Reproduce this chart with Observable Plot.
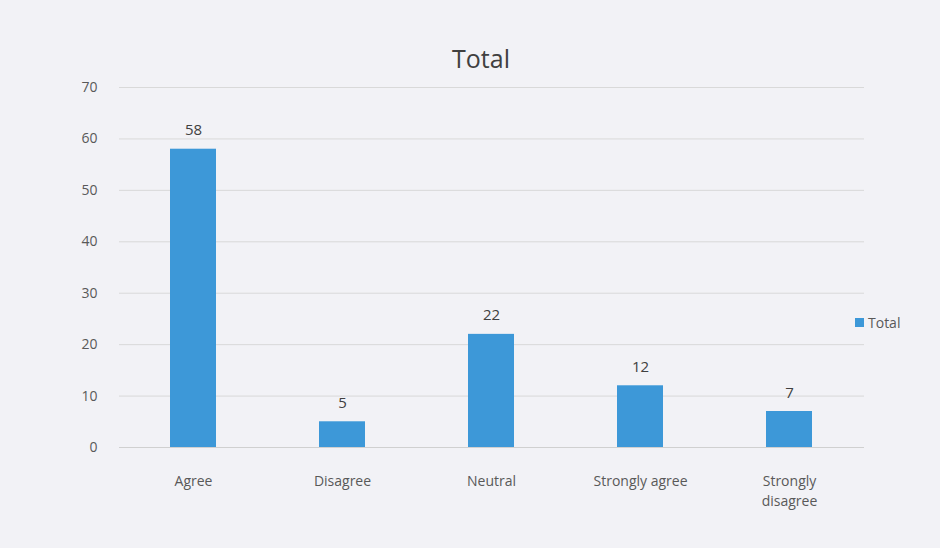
<!DOCTYPE html>
<html>
<head>
<meta charset="utf-8">
<script src="https://cdn.jsdelivr.net/npm/d3@7"></script>
<script src="https://cdn.jsdelivr.net/npm/@observablehq/plot@0.6"></script>
<style>
  html, body { margin: 0; padding: 0; background: #f2f2f6; }
  #wrap { position: relative; width: 940px; height: 548px; font-family: "Open Sans", sans-serif; }
  #title { position: absolute; left: 0; width: 962px; top: 41px; text-align: center; font-size: 25px; color: #404040; }
  #legend { position: absolute; left: 855px; top: 313px; font-size: 14px; color: #595959; display: flex; align-items: center; }
  #legend span.sw { display: inline-block; width: 9px; height: 9px; background: #3d98d8; margin-right: 4px; }
</style>
</head>
<body>
<div id="wrap">
  <div id="chart"></div>
  <div id="title">Total</div>
  <div id="legend"><span class="sw"></span>Total</div>
</div>
<script>
const categories = ["Agree", "Disagree", "Neutral", "Strongly agree", "Strongly disagree"];
const tickLabels = ["Agree", "Disagree", "Neutral", "Strongly agree", "Strongly\ndisagree"];
const values = [58, 5, 22, 12, 7];
const yTicks = [0, 10, 20, 30, 40, 50, 60, 70];

const data = categories.map((c, i) => ({category: c, value: values[i]}));
const labelOf = new Map(categories.map((c, i) => [c, tickLabels[i]]));

const chart = Plot.plot({
  width: 940,
  height: 548,
  marginTop: 87,
  marginBottom: 101,
  marginLeft: 119,
  marginRight: 76,
  style: {background: "transparent", fontFamily: "Open Sans, sans-serif", fontSize: "14px", color: "#595959"},
  x: {domain: categories, paddingInner: 0.69, paddingOuter: 0.345, label: null},
  y: {domain: [0, 70], label: null},
  marks: [
    Plot.gridY(yTicks, {stroke: "#d9d9d9", strokeOpacity: 1}),
    Plot.ruleY([0], {stroke: "#d0d0d0"}),
    Plot.barY(data, {x: "category", y: "value", fill: "#3d98d8"}),
    Plot.text(data, {x: "category", y: "value", text: d => String(d.value), dy: -14, lineAnchor: "bottom", fill: "#404040", fontSize: 15}),
    Plot.axisY(yTicks, {tickSize: 0, tickPadding: 22, fill: "#595959", fontSize: 14, label: null}),
    Plot.axisX({tickSize: 0, tickPadding: 24, fill: "#595959", fontSize: 14, tickFormat: c => labelOf.get(c), label: null, lineHeight: 1.45})
  ]
});
document.getElementById("chart").appendChild(chart);
</script>
</body>
</html>
